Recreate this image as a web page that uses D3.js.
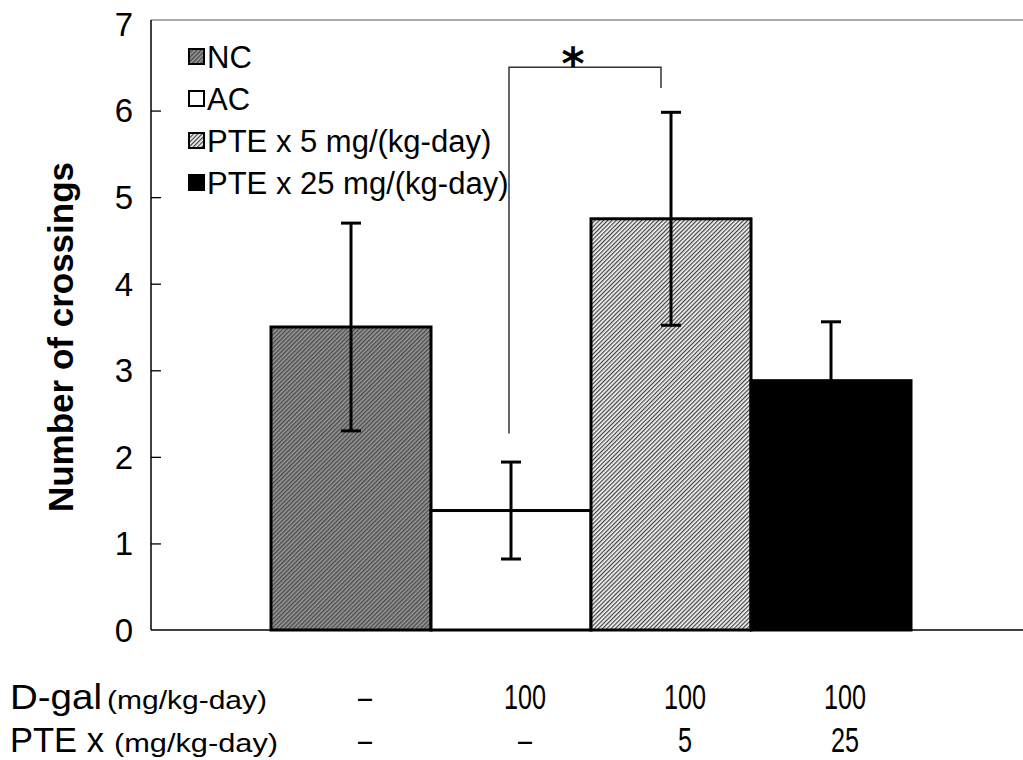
<!DOCTYPE html>
<html>
<head>
<meta charset="utf-8">
<script src="https://cdn.jsdelivr.net/npm/d3@7"></script>
<style>
  html, body { margin: 0; padding: 0; background: #fff; }
  svg { display: block; }
</style>
</head>
<body>
<svg id="chart" width="1023" height="760"></svg>
<script>
// Group names, mean crossings and SD
const groups = ["NC", "AC", "PTE x 5 mg/(kg-day)", "PTE x 25 mg/(kg-day)"];
const means = [3.5, 1.38, 4.75, 2.88];
const errors = [1.2, 0.56, 1.23, 0.68];
const yTicks = [0, 1, 2, 3, 4, 5, 6, 7];

// Dose rows printed under the bars
const dgalDose = ["\u2013", "100", "100", "100"];
const pteDose = ["\u2013", "\u2013", "5", "25"];

// Significance bracket between AC and PTE x 5 (y values in data units)
const bracket = { from: 1, to: 2, top: 6.5, leftEnd: 2.27, rightEnd: 6.26, label: "*" };

const svg = d3.select("#chart");

const x = d3.scaleBand().domain(d3.range(groups.length)).range([271, 911]).padding(0);
const y = d3.scaleLinear().domain([0, 7]).range([630, 24]);

// Fill patterns
const defs = svg.append("defs");
function hatch(id, bg, line, w) {
  const p = defs.append("pattern").attr("id", id)
    .attr("patternUnits", "userSpaceOnUse").attr("width", 3).attr("height", 3)
    .attr("patternTransform", "rotate(45)");
  p.append("rect").attr("width", 3).attr("height", 3).attr("fill", bg);
  p.append("rect").attr("width", w).attr("height", 3).attr("fill", line);
}
hatch("pNC", "#9a9a9a", "#4a4a4a", 1.4);
hatch("pP5", "#f4f4f4", "#404040", 1.2);
const fills = ["url(#pNC)", "#ffffff", "url(#pP5)", "#000000"];

// Plot frame (top and left / bottom)
svg.append("line").attr("x1", 151).attr("x2", 1023).attr("y1", y(7) - 4).attr("y2", y(7) - 4)
  .attr("stroke", "#555").attr("stroke-width", 1.2);

// Y axis with inward ticks
const yAxis = svg.append("g").attr("transform", "translate(151,0)")
  .call(d3.axisRight(y).tickValues(yTicks.slice(1, 7)).tickSize(10).tickFormat(""));
yAxis.select(".domain").remove();
yAxis.selectAll("line").attr("stroke", "#000").attr("stroke-width", 1.3);
svg.append("line").attr("x1", 151).attr("x2", 151).attr("y1", y(7) - 4).attr("y2", y(0))
  .attr("stroke", "#000").attr("stroke-width", 1.5);
svg.append("line").attr("x1", 151).attr("x2", 1023).attr("y1", y(0)).attr("y2", y(0))
  .attr("stroke", "#000").attr("stroke-width", 1.5);

// Tick labels
svg.append("g").selectAll("text").data(yTicks).join("text")
  .attr("x", 133).attr("y", d => y(d)).attr("dy", "0.36em")
  .attr("text-anchor", "end")
  .attr("font-family", "Liberation Sans, Arial, sans-serif").attr("font-size", 33)
  .text(d => d);

// Y axis title
svg.append("text")
  .attr("transform", `translate(73,${(y(0) + y(7)) / 2 + 10}) rotate(-90)`)
  .attr("text-anchor", "middle")
  .attr("font-family", "Liberation Sans, Arial, sans-serif").attr("font-size", 35)
  .attr("font-weight", "bold")
  .text("Number of crossings");

// Bars
svg.append("g").selectAll("rect").data(means).join("rect")
  .attr("x", (d, i) => x(i)).attr("width", x.bandwidth())
  .attr("y", d => y(d)).attr("height", d => y(0) - y(d))
  .attr("fill", (d, i) => fills[i])
  .attr("stroke", "#000").attr("stroke-width", 3);

// Error bars
const eb = svg.append("g").attr("stroke", "#000").attr("stroke-width", 3);
means.forEach((m, i) => {
  const cx = x(i) + x.bandwidth() / 2;
  eb.append("line").attr("x1", cx).attr("x2", cx).attr("y1", y(m - errors[i])).attr("y2", y(m + errors[i]));
  [m - errors[i], m + errors[i]].forEach(v => {
    eb.append("line").attr("x1", cx - 10).attr("x2", cx + 10).attr("y1", y(v)).attr("y2", y(v));
  });
});

// Significance bracket
const bx1 = x(bracket.from) + x.bandwidth() / 2 - 2;
const bx2 = x(bracket.to) + x.bandwidth() / 2 - 10;
svg.append("path")
  .attr("d", `M${bx1},${y(bracket.leftEnd)}V${y(bracket.top)}H${bx2}V${y(bracket.rightEnd)}`)
  .attr("fill", "none").attr("stroke", "#333").attr("stroke-width", 1.5);
svg.append("text")
  .attr("x", (bx1 + bx2) / 2 - 12).attr("y", 79)
  .attr("text-anchor", "middle")
  .attr("font-family", "DejaVu Sans, sans-serif").attr("font-size", 44)
  .attr("font-weight", "bold")
  .text(bracket.label);

// Legend
const legend = svg.append("g");
groups.forEach((g, i) => {
  const ly = 57 + i * 42;
  legend.append("rect").attr("x", 189).attr("y", ly - 8).attr("width", 15).attr("height", 15)
    .attr("fill", fills[i]).attr("stroke", "#000").attr("stroke-width", 2);
  legend.append("text").attr("x", 207).attr("y", ly).attr("dy", "0.36em")
    .attr("font-family", "Liberation Sans, Arial, sans-serif").attr("font-size", 31)
    .text(g);
});

// Dose table under the axis (narrow sans)
const narrow = "Liberation Sans, Arial, sans-serif";
function rowLabel(yPos, name, nameLen) {
  svg.append("text").attr("x", 10).attr("y", yPos)
    .attr("font-family", narrow).attr("font-size", 35)
    .attr("textLength", nameLen).attr("lengthAdjust", "spacingAndGlyphs")
    .text(name);
}
function unitLabel(x0, yPos, len) {
  svg.append("text").attr("x", x0).attr("y", yPos)
    .attr("font-family", narrow).attr("font-size", 26)
    .attr("textLength", len).attr("lengthAdjust", "spacingAndGlyphs")
    .text("(mg/kg-day)");
}
rowLabel(709, "D-gal", 92);
unitLabel(107, 709, 160);
rowLabel(752, "PTE x", 94);
unitLabel(114, 752, 164);

function doseRow(vals, yPos) {
  svg.append("g").selectAll("text").data(vals).join("text")
    .attr("x", (d, i) => x(i) + x.bandwidth() / 2 + 14)
    .attr("y", yPos)
    .attr("text-anchor", "middle")
    .attr("font-family", narrow).attr("font-size", 35)
    .attr("transform-origin", (d, i) => `${x(i) + x.bandwidth() / 2 + 14}px ${yPos}px`)
    .attr("transform", "scale(0.72,1)")
    .text(d => d);
}
doseRow(dgalDose, 709);
doseRow(pteDose, 752);
</script>
</body>
</html>
